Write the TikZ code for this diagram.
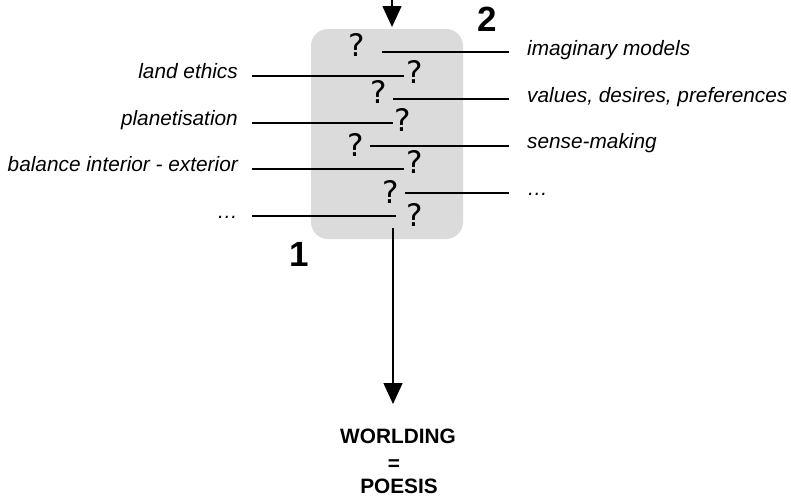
\documentclass[tikz,border=0pt]{standalone}
\usepackage{fontspec}
\setmainfont{Liberation Sans}
\newfontfamily\qfont{DejaVu Sans}
\usetikzlibrary{arrows.meta}
\begin{document}
\begin{tikzpicture}[x=1pt,y=-1pt,
  conn/.style={line width=1.5pt},
  arr/.style={line width=1.5pt,-{Triangle[length=21pt,width=19pt]}},
  qmark/.style={inner sep=0pt,font=\qfont\fontsize{31}{36}\selectfont},
  lab/.style={inner sep=0pt,font=\fontsize{20.8}{25}\selectfont\itshape},
  big/.style={inner sep=0pt,font=\fontsize{35}{40}\selectfont\bfseries},
  outtxt/.style={inner sep=0pt,anchor=base,font=\fontsize{20.8}{25}\selectfont\bfseries},
  panel/.style={fill=black!14,rounded corners=17pt,minimum width=152pt,minimum height=210pt,inner sep=0pt}]
\useasboundingbox (0,0) rectangle (791,498);

% grey panel holding the question marks
\node[panel] (box) at (387,134) {};

% incoming and outgoing arrows
\coordinate (in) at (392,0);
\coordinate (inend) at (392,27);
\draw[arr] (in) -- (inend);
\coordinate (outstart) at (393,228);
\coordinate (outend) at (393,404);
\draw[arr] (outstart) -- (outend);

% question marks
\node[qmark] (q1) at (357,44.5) {?};
\node[qmark] (q2) at (414.5,72) {?};
\node[qmark] (q3) at (379,91.5) {?};
\node[qmark] (q4) at (403,119.5) {?};
\node[qmark] (q5) at (356,144.5) {?};
\node[qmark] (q6) at (414.5,161.5) {?};
\node[qmark] (q7) at (391,191.5) {?};
\node[qmark] (q8) at (414.5,214.5) {?};

% side numbers
\node[big] (n2) at (487,19.5) {2};
\node[big] (n1) at (299,254) {1};

% left-hand labels and their leaders
\node[lab,anchor=base east] (l1) at (238,78) {land ethics};
\node[lab,anchor=base east] (l2) at (238,125) {planetisation};
\node[lab,anchor=base east] (l3) at (238,171) {balance interior - exterior};
\node[lab,anchor=base east] (l4) at (238,218) {\dots};
\coordinate (la1) at (252,76);  \coordinate (lb1) at (404,76);
\coordinate (la2) at (252,123); \coordinate (lb2) at (393,123);
\coordinate (la3) at (252,169); \coordinate (lb3) at (404,169);
\coordinate (la4) at (252,216); \coordinate (lb4) at (396,216);
\draw[conn] (la1) -- (lb1);
\draw[conn] (la2) -- (lb2);
\draw[conn] (la3) -- (lb3);
\draw[conn] (la4) -- (lb4);

% right-hand labels and their leaders
\node[lab,anchor=base west] (r1) at (527,55) {imaginary models};
\node[lab,anchor=base west] (r2) at (527,102) {values, desires, preferences};
\node[lab,anchor=base west] (r3) at (527,148) {sense-making};
\node[lab,anchor=base west] (r4) at (527,195) {\dots};
\coordinate (ra1) at (382,52);  \coordinate (rb1) at (509,52);
\coordinate (ra2) at (393,99);  \coordinate (rb2) at (509,99);
\coordinate (ra3) at (370,146); \coordinate (rb3) at (509,146);
\coordinate (ra4) at (405,193); \coordinate (rb4) at (509,193);
\draw[conn] (ra1) -- (rb1);
\draw[conn] (ra2) -- (rb2);
\draw[conn] (ra3) -- (rb3);
\draw[conn] (ra4) -- (rb4);

% outcome
\node[outtxt] (w1) at (398,443.5) {WORLDING};
\node[outtxt] (weq) at (394,470) {=};
\node[outtxt] (w2) at (399,493.5) {POESIS};
\end{tikzpicture}
\end{document}
